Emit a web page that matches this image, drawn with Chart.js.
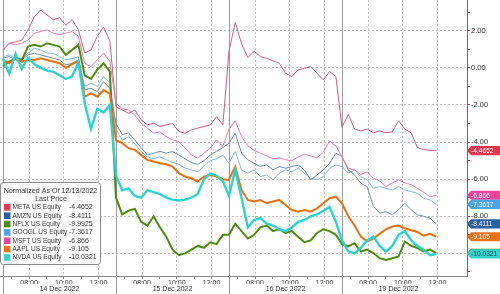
<!DOCTYPE html>
<html>
<head>
<meta charset="utf-8">
<script src="https://cdn.jsdelivr.net/npm/chart.js@4"></script>
<style>
html, body { margin: 0; padding: 0; background: #fff; }
</style>
</head>
<body>
<canvas id="chart" width="500" height="294"></canvas>
<script>
// trading days shown on the x axis, session 06:30 - 13:00
const days = ['14 Dec 2022', '15 Dec 2022', '16 Dec 2022', '19 Dec 2022'];
const sessionHours = 6.5;
const stepMinutes = 21.7;            // spacing of the samples
const pointsPerDay = [18, 18, 18, 16];
const hourTicks = [7, 8, 9, 10, 11, 12];

const names = ['META US Equity', 'AMZN US Equity', 'NFLX US Equity', 'GOOGL US Equity',
               'MSFT US Equity', 'AAPL US Equity', 'NVDA US Equity'];
const lastPrices = ['-4.4652', '-8.4111', '-9.9925', '-7.3617', '-6.866', '-9.105', '-10.0321'];

const meta = [
  0.97, 1.33, 1.4, 1.5, 2.05, 2.77, 3.12, 2.85, 2.6, 2.7, 2.3, 2.6, 2.05, 0.8, 0.97, 1.7, 2.2, 1.45,
  -2.1, -2.27, -2.45, -2.27, -2.8, -3.07, -2.98, -3.16, -3.07, -3.0, -3.43, -3.52, -3.34, -3.25, -3.16, -3.07, -2.63, -3.07,
  0.9, 2.45, 1.3, 0.55, 0.9, 0.6, 0.52, 0.38, 0.25, -0.29, -0.47, -0.11, -0.02, 0.07, -0.29, -0.65, -0.2, -0.47,
  -3.2, -2.5, -3.3, -3.4, -3.3, -3.5, -3.4, -3.5, -3.45, -2.85, -3.3, -3.5, -4.3, -4.4, -4.45, -4.4652
];
const amzn = [
  0.52, 0.61, 0.43, 0.43, 0.7, 0.79, 0.7, 0.61, 0.52, 0.43, 0.16, 0.25, 0.43, -1.19, -1.1, -1.28, -0.74, -1.1,
  -3.0, -3.6, -3.5, -3.9, -4.3, -4.7, -4.6, -4.5, -4.6, -4.5, -4.7, -4.9, -5.1, -5.2, -5.0, -4.7, -4.5, -4.3,
  -4.06, -3.52, -4.6, -4.96, -5.14, -5.32, -5.23, -5.5, -5.32, -5.41, -5.32, -5.23, -5.5, -6.04, -5.77, -5.5, -5.14, -4.6,
  -4.78, -5.5, -5.77, -6.22, -6.4, -7.47, -7.83, -7.75, -7.92, -7.65, -7.3, -7.65, -7.92, -8.0, -8.1, -8.4111
];
const nflx = [
  0.07, 0.34, 0.5, 0.43, 1.15, 1.24, 1.15, 1.33, 1.24, 1.15, 0.7, 0.97, 1.24, -0.4, -0.6, -0.1, 0.25, -0.2,
  -7.0, -7.9, -7.7, -7.6, -8.3, -8.5, -8.0, -8.6, -9.1, -9.8, -10.1, -10.0, -9.8, -9.6, -9.7, -9.4, -9.5, -9.0,
  -9.0, -8.4, -8.8, -9.2, -9.0, -8.6, -8.5, -8.8, -8.7, -8.9, -8.8, -9.1, -9.4, -9.3, -8.9, -8.7, -8.8, -9.0,
  -9.5, -9.63, -9.45, -9.9, -9.8, -9.99, -10.26, -10.35, -10.26, -10.17, -9.36, -9.6, -9.72, -9.9, -9.8, -9.9925
];
const googl = [
  0.6, 0.7, 0.5, 0.5, 0.79, 1.06, 0.97, 0.8, 0.79, 0.61, 0.43, 0.5, 0.6, -1.0, -0.83, -1.0, -0.47, -0.83,
  -3.3, -3.9, -3.7, -4.1, -4.5, -4.8, -4.9, -4.8, -4.95, -5.1, -5.2, -5.4, -5.5, -5.6, -5.3, -5.0, -4.9, -4.7,
  -5.14, -4.5, -5.5, -5.68, -5.5, -5.86, -5.77, -6.04, -5.68, -5.5, -5.6, -5.41, -5.68, -5.95, -6.04, -5.86, -5.41, -5.23,
  -5.32, -5.68, -5.5, -5.86, -6.04, -6.49, -6.4, -6.49, -6.58, -6.4, -6.58, -6.67, -6.76, -7.03, -7.12, -7.3617
];
const msft = [
  0.9, 1.33, 1.25, 1.33, 1.5, 1.87, 1.96, 2.05, 1.87, 1.78, 1.87, 1.96, 1.7, 0.25, 0.07, 0.43, 0.8, 0.35,
  -1.9, -2.2, -2.27, -2.54, -2.98, -3.25, -3.52, -3.45, -3.7, -3.88, -3.97, -4.33, -4.69, -4.87, -4.6, -4.33, -3.88, -4.24,
  -3.3, -2.85, -3.7, -4.2, -4.45, -4.6, -4.75, -4.9, -4.85, -4.95, -5.0, -4.8, -4.65, -4.75, -4.85, -4.55, -3.95, -4.2,
  -4.8, -5.4, -5.5, -5.75, -5.6, -5.95, -6.1, -6.4, -6.2, -6.05, -6.2, -6.3, -6.5, -6.7, -6.95, -6.866
];
const aapl = [
  0.43, 0.25, 0.52, 0.34, 0.43, 0.43, 0.52, 0.43, 0.34, 0.25, 0.0, 0.2, 0.35, -1.55, -1.37, -1.55, -1.19, -1.4,
  -3.9, -4.06, -4.33, -4.42, -4.69, -4.96, -5.05, -5.14, -5.2, -5.32, -5.68, -5.86, -5.95, -6.13, -5.86, -5.77, -5.86, -6.0,
  -6.04, -5.32, -6.58, -7.12, -7.2, -7.12, -7.3, -7.2, -7.12, -7.39, -7.66, -7.75, -7.66, -7.75, -7.57, -7.3, -7.03, -6.94,
  -7.3, -8.0, -8.5, -9.1, -9.35, -9.2, -8.95, -8.7, -8.55, -8.5, -8.65, -8.75, -8.85, -9.05, -8.95, -9.105
];
const nvda = [
  0.5, -0.3, 0.75, -0.05, 0.55, 0.2, 0.0, -0.15, -0.2, -0.4, -0.6, -0.45, 0.3, -1.9, -3.3, -2.2, -2.4, -2.0,
  -5.8, -6.6, -6.5, -6.9, -7.0, -6.6, -6.7, -6.8, -7.0, -7.1, -7.15, -7.1, -7.0, -6.8, -6.0, -5.7, -5.8, -6.1,
  -6.9, -5.5, -7.0, -8.6, -8.2, -8.1, -8.4, -8.5, -8.7, -8.8, -8.6, -8.3, -8.2, -8.0, -7.9, -7.7, -7.5, -8.3,
  -9.3, -9.9, -10.0, -9.7, -9.3, -9.1, -9.6, -9.9, -9.6, -9.0, -8.8, -9.3, -9.6, -9.8, -10.1, -10.0321
];

const seriesData = [meta, amzn, nflx, googl, msft, aapl, nvda];
const legendColors = ['#e3354f', '#2c5f9e', '#4f8a14', '#4ca3e6', '#e8459d', '#e8711a', '#36d1cd'];
const lineColors   = ['#cc5c7c', '#6b8db0', '#4e8a0e', '#86b6dc', '#db7cc0', '#e8700f', '#2ad3d0'];
const lineWidths   = [1, 1, 2, 1, 1, 2, 2.4];
const drawOrder    = [5, 6, 3, 7, 4, 2, 1];   // lower = drawn on top
const tagTextColors = ['#fff', '#fff', '#fff', '#fff', '#fff', '#fff', '#1d4f55'];

// x values in session hours since the first open
const xs = [];
pointsPerDay.forEach((n, d) => {
  for (let m = 0; m < n; m++) xs.push(d * sessionHours + m * stepMinutes / 60);
});

Chart.defaults.font.family = 'Liberation Sans';
Chart.defaults.color = '#333';

const ctx = document.getElementById('chart').getContext('2d');

// text squeezed a little, the original font is narrower than Liberation Sans
function squeezeText(c, text, x, y, k) {
  c.fillText(text, x, y, c.measureText(text).width * k);
}

const decor = {
  id: 'decor',
  beforeDatasetsDraw(chart) {
    const c = chart.ctx, x = chart.scales.x, area = chart.chartArea;
    c.save();
    c.strokeStyle = '#9c9c9c';
    c.lineWidth = 1;
    days.forEach((_, i) => {
      const px = Math.round(x.getPixelForValue(i * sessionHours)) + 0.5;
      c.beginPath();
      c.moveTo(px, area.top);
      c.lineTo(px, chart.height);
      c.stroke();
    });
    c.restore();
  },
  afterDatasetsDraw(chart) {
    const c = chart.ctx, y = chart.scales.y, area = chart.chartArea;
    c.save();
    // value tags on the right axis
    const tagOrder = [0, 4, 3, 1, 5, 2, 6];
    c.font = '7.4px "Liberation Sans"';
    c.textBaseline = 'middle';
    tagOrder.forEach(i => {
      const vals = seriesData[i];
      const py = y.getPixelForValue(vals[vals.length - 1]);
      const left = area.right;
      c.fillStyle = legendColors[i];
      c.beginPath();
      c.moveTo(left, py);
      c.lineTo(left + 4, py - 4.6);
      c.lineTo(chart.width, py - 4.6);
      c.lineTo(chart.width, py + 4.6);
      c.lineTo(left + 4, py + 4.6);
      c.closePath();
      c.fill();
      c.fillStyle = tagTextColors[i];
      c.textAlign = 'left';
      squeezeText(c, lastPrices[i], left + 4, py + 0.5, 0.9);
    });

    // legend box
    const bx = 0.5, by = 182.5, bw = 100, bh = 82, r = 3;
    c.beginPath();
    c.moveTo(bx + r, by);
    c.arcTo(bx + bw, by, bx + bw, by + bh, r);
    c.arcTo(bx + bw, by + bh, bx, by + bh, r);
    c.arcTo(bx, by + bh, bx, by, r);
    c.arcTo(bx, by, bx + bw, by, r);
    c.closePath();
    c.fillStyle = '#fff';
    c.fill();
    c.strokeStyle = '#8a8a8a';
    c.lineWidth = 1;
    c.stroke();

    c.font = '7.6px "Liberation Sans"';
    c.fillStyle = '#333';
    c.textAlign = 'center';
    squeezeText(c, 'Normalized As Of 12/13/2022', 50.5, 191, 0.94);
    squeezeText(c, 'Last Price', 51, 199.3, 0.94);
    names.forEach((n, i) => {
      const ry = 207.3 + i * 8.35;
      c.fillStyle = legendColors[i];
      c.fillRect(4, ry - 3.2, 6.5, 6.5);
      c.fillStyle = '#333';
      c.textAlign = 'left';
      squeezeText(c, n, 12.5, ry, 0.86);
      squeezeText(c, lastPrices[i], 69, ry, 0.92);
    });
    c.restore();
  }
};

const xMin = -0.17, xMax = 26.69;

const chart = new Chart(ctx, {
  type: 'line',
  data: {
    datasets: names.map((n, i) => ({
      label: n,
      data: seriesData[i].map((v, k) => ({ x: xs[k], y: v })),
      borderColor: lineColors[i],
      borderWidth: lineWidths[i],
      pointRadius: 0,
      tension: 0,
      order: drawOrder[i]
    }))
  },
  options: {
    responsive: false,
    animation: false,
    devicePixelRatio: 1,
    layout: { padding: 0 },
    plugins: { legend: { display: false }, tooltip: { enabled: false } },
    scales: {
      x: {
        type: 'linear',
        position: 'bottom',
        min: xMin, max: xMax,
        weight: 0,
        afterBuildTicks: s => {
          s.ticks = [];
          days.forEach((_, d) => hourTicks.forEach(h => s.ticks.push({ value: d * sessionHours + h - 6.5 })));
        },
        afterFit: s => { s.height = 8; s.paddingLeft = 0; s.paddingRight = 0; },
        ticks: {
          autoSkip: false, maxRotation: 0, minRotation: 0, padding: 0,
          font: { size: 7 }, color: '#333',
          callback: (v) => {
            const h = Math.round(((v % sessionHours) + sessionHours) % sessionHours + 6.5);
            return h % 2 === 0 ? String(h).padStart(2, '0') + ':00' : '';
          }
        },
        grid: {
          color: c => {
            if (!c.tick) return 'transparent';
            const h = Math.round(((c.tick.value % sessionHours) + sessionHours) % sessionHours + 6.5);
            return h % 2 === 0 ? '#c2c2c2' : 'transparent';
          },
          tickColor: '#999', tickLength: 3, lineWidth: 1
        },
        border: { display: true, color: '#8c8c8c', dash: [2, 2] }
      },
      x2: {
        type: 'linear',
        position: 'bottom',
        min: xMin, max: xMax,
        weight: 1,
        afterBuildTicks: s => { s.ticks = days.map((_, d) => ({ value: d * sessionHours + sessionHours / 2 })); },
        afterFit: s => { s.height = 10; s.paddingLeft = 0; s.paddingRight = 0; },
        ticks: {
          autoSkip: false, maxRotation: 0, minRotation: 0, padding: 1,
          font: { size: 7 }, color: '#333',
          callback: (v, i) => days[i]
        },
        grid: { display: false, drawTicks: false },
        border: { display: false }
      },
      y: {
        type: 'linear',
        position: 'right',
        min: -11.22, max: 3.66,
        afterBuildTicks: s => {
          s.ticks = [];
          for (let v = -11; v <= 3; v++) s.ticks.push({ value: v });
        },
        afterFit: s => { s.width = 33; s.paddingTop = 0; s.paddingBottom = 0; },
        ticks: {
          padding: 1, font: { size: 7.5 }, color: '#333',
          callback: v => (Math.abs(v) % 2 === 0 ? v.toFixed(2) : '')
        },
        grid: {
          color: c => (c.tick && Math.abs(c.tick.value) % 2 === 0 ? '#c2c2c2' : 'transparent'),
          tickColor: '#c8405a', tickLength: 3, lineWidth: 1
        },
        border: { display: true, color: '#c8405a', width: 1, dash: [2, 2] }
      }
    }
  },
  plugins: [decor]
});
</script>
</body>
</html>
